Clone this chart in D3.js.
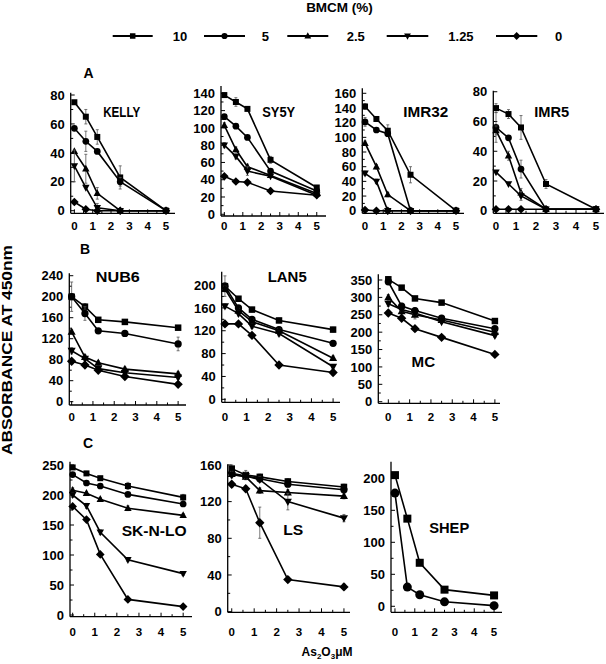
<!DOCTYPE html>
<html><head><meta charset="utf-8">
<script src="https://cdn.jsdelivr.net/npm/d3@7"></script>
<style>
body{margin:0;background:#fff}
text{font-family:"Liberation Sans",Arial,Helvetica,sans-serif;font-weight:bold;fill:#000}
</style>
</head><body>
<svg id="c" width="606" height="664"></svg>
<script>
// ---------- data ----------
const doses = [0, 0.625, 1.25, 2.5, 5];            // As2O3 µM
const seriesLabels = ["10", "5", "2.5", "1.25", "0"]; // BMCM (%)
const xTickLabels = [0, 1, 2, 3, 4, 5];

const kellyValues = [[75,65,51,23,0],[57,48,41,20,0],[41,29,12,0,0],[31,16,2,0,0],[6,1,0,0,0]];
const kellyErrors = [[1,5,5,8,0],[1,7,0,3,0],[1,10,4,0,0],[11,0,3,0,0],[0,0,0,0,0]];

const sy5yValues = [[138,130,122,63,31],[113,102,89,50,27],[103,75,55,45,24],[80,67,50,44,22],[44,38,37,27,22]];
const sy5yErrors = [[2,5,2,4,2],[2,2,2,3,0],[3,3,3,2,0],[3,3,5,2,0],[2,2,2,3,0]];

const imr32Values = [[142,125,109,49,0],[121,110,105,0,0],[92,60,22,0,0],[51,40,0,0,0],[1,0,0,0,0]];
const imr32Errors = [[4,3,8,11,0],[6,3,3,0,0],[3,3,3,0,0],[3,3,0,0,0],[0,0,0,0,0]];

const imr5Values = [[69,65,56,18,1],[56,49,28,1,1],[54,37,12,1,1],[26,18,10,1,1],[1,1,1,1,1]];
const imr5Errors = [[3,3,8,3,0],[10,2,6,0,0],[3,3,3,0,0],[2,2,3,0,0],[0,0,0,0,0]];

const nub6Values = [[200,181,156,152,141],[200,168,135,130,110],[133,85,74,62,53],[97,82,63,55,46],[77,70,60,48,33]];
const nub6Errors = [[28,6,4,4,4],[6,13,4,4,13],[4,4,4,4,4],[6,4,3,3,3],[3,3,3,3,3]];

const lan5Values = [[198,176,157,138,122],[198,160,140,122,98],[193,155,136,120,72],[163,150,128,115,57],[132,132,112,60,47]];
const lan5Errors = [[18,4,4,4,4],[6,4,4,4,4],[5,4,4,4,4],[4,4,4,4,4],[4,4,4,4,4]];

const mcValues = [[352,328,297,285,232],[345,275,262,240,210],[300,260,250,235,200],[282,265,255,230,190],[255,240,210,185,136]];
const mcErrors = [[8,5,5,5,5],[8,8,8,5,5],[8,8,12,5,5],[8,6,6,5,5],[6,6,6,5,5]];

const sknloValues = [[246,236,228,215,196],[234,220,215,201,185],[208,203,193,178,166],[200,182,138,92,69],[181,159,101,26,14]];
const sknloErrors = [[3,3,3,6,5],[3,3,3,3,4],[4,3,3,4,3],[4,4,4,3,3],[3,3,3,3,3]];

const lsValues = [[156,149,147,142,136],[151,148,145,139,133],[150,147,132,130,126],[149,148,144,120,102],[139,134,97,35,27]];
const lsErrors = [[4,5,3,3,3],[3,3,3,3,3],[3,3,3,3,3],[3,3,3,9,4],[3,3,17,3,3]];

const shepValues = [[205,137,68,26,17],[177,30,18,7,1]];
const shepErrors = [[3,3,3,3,3],[3,3,3,3,3]];

// ---------- layout ----------
const panels = [
  {title:"KELLY", values:kellyValues, errors:kellyErrors, left:70.7, right:175, top:92.7, bottom:213.3, xDom:[-0.2,5.49], yDom:[-1.8,81.6], yTicks:[0,20,40,60,80], yMinor:10, tx:121.7, ty:117.3, tw:37, ms:6, xly:230},
  {title:"SY5Y", values:sy5yValues, errors:sy5yErrors, left:221, right:326, top:86, bottom:216, xDom:[-0.18,5.5], yDom:[-2,148.5], yTicks:[0,20,40,60,80,100,120,140], yMinor:10, tx:278.7, ty:116.7, tw:33, ms:6, xly:230},
  {title:"IMR32", values:imr32Values, errors:imr32Errors, left:362.3, right:464, top:88.3, bottom:213.3, xDom:[-0.15,5.44], yDom:[-3.5,166.8], yTicks:[0,20,40,60,80,100,120,140,160], yMinor:10, tx:425.8, ty:117.3, tw:45, ms:6, xly:230},
  {title:"IMR5", values:imr5Values, errors:imr5Errors, left:493.3, right:604, top:90.7, bottom:213.3, xDom:[-0.135,5.4], yDom:[-1.7,80.7], yTicks:[0,20,40,60,80], yMinor:10, tx:551.7, ty:116.7, tw:35, ms:6, xly:230},
  {title:"NUB6", values:nub6Values, errors:nub6Errors, left:69.3, right:186, top:273.3, bottom:405, xDom:[-0.11,5.37], yDom:[-6.3,244.6], yTicks:[0,40,80,120,160,200,240], yMinor:20, tx:117.8, ty:281.7, tw:44, ms:6.5, xly:421},
  {title:"LAN5", values:lan5Values, errors:lan5Errors, left:221.7, right:340, top:271.7, bottom:402.3, xDom:[-0.15,5.32], yDom:[-5.2,223.3], yTicks:[0,40,80,120,160,200], yMinor:20, tx:287.2, ty:281.7, tw:39, ms:6.5, xly:421},
  {title:"MC", values:mcValues, errors:mcErrors, left:378.3, right:500, top:274.3, bottom:403.3, xDom:[-0.47,5.24], yDom:[-4.6,366.4], yTicks:[0,50,100,150,200,250,300,350], yMinor:25, tx:423.3, ty:366.7, tw:23.5, ms:6.5, xly:421},
  {title:"SK-N-LO", values:sknloValues, errors:sknloErrors, left:70, right:192, top:461.7, bottom:616.7, xDom:[-0.12,5.4], yDom:[-2.8,255.5], yTicks:[0,50,100,150,200,250], yMinor:25, tx:154.2, ty:535.7, tw:65, ms:6, xly:636},
  {title:"LS", values:lsValues, errors:lsErrors, left:227.7, right:350, top:464.3, bottom:612.3, xDom:[-0.18,5.27], yDom:[-0.7,160.7], yTicks:[0,40,80,120,160], yMinor:20, tx:293.3, ty:535, tw:20, ms:6.5, xly:636},
  {title:"SHEP", values:shepValues, errors:shepErrors, left:391, right:502, top:461.7, bottom:612.3, xDom:[-0.2,5.4], yDom:[-9.4,226], yTicks:[0,50,100,150,200], yMinor:25, tx:449.2, ty:533.3, tw:40, ms:8, xly:636}
];

const svg = d3.select("#c");

function drawMarker(g, type, cx, cy, s) {
  const h = s / 2;
  if (type === 0) {
    g.append("rect").attr("x", cx - h).attr("y", cy - h).attr("width", s).attr("height", s).attr("fill", "#000");
  } else if (type === 1) {
    g.append("circle").attr("cx", cx).attr("cy", cy).attr("r", s * 0.56).attr("fill", "#000");
  } else if (type === 2) {
    g.append("path").attr("d", `M${cx},${cy - s*0.68}L${cx + s*0.62},${cy + s*0.45}L${cx - s*0.62},${cy + s*0.45}Z`).attr("fill", "#000");
  } else if (type === 3) {
    g.append("path").attr("d", `M${cx},${cy + s*0.68}L${cx + s*0.62},${cy - s*0.45}L${cx - s*0.62},${cy - s*0.45}Z`).attr("fill", "#000");
  } else {
    g.append("path").attr("d", `M${cx},${cy - s*0.72}L${cx + s*0.72},${cy}L${cx},${cy + s*0.72}L${cx - s*0.72},${cy}Z`).attr("fill", "#000");
  }
}

panels.forEach(p => {
  const g = svg.append("g");
  const x = d3.scaleLinear().domain(p.xDom).range([p.left, p.right]);
  const y = d3.scaleLinear().domain(p.yDom).range([p.bottom, p.top]);

  // axes lines
  g.append("line").attr("x1", p.left).attr("x2", p.left).attr("y1", p.top).attr("y2", p.bottom).attr("stroke", "#000").attr("stroke-width", 1.3);
  g.append("line").attr("x1", p.left).attr("x2", p.right).attr("y1", p.bottom).attr("y2", p.bottom).attr("stroke", "#000").attr("stroke-width", 1.3);

  // y ticks (major + minor)
  const yMax = p.yTicks[p.yTicks.length - 1];
  const minor = d3.range(0, yMax + 0.001, p.yMinor);
  minor.forEach(v => {
    const major = p.yTicks.includes(v);
    g.append("line").attr("x1", p.left).attr("x2", p.left + (major ? 4 : 2.5))
      .attr("y1", y(v)).attr("y2", y(v)).attr("stroke", "#000").attr("stroke-width", 1);
  });
  p.yTicks.forEach(v => {
    g.append("text").attr("x", p.left - 6).attr("y", y(v)).attr("dy", "0.36em")
      .attr("text-anchor", "end").attr("font-size", 13).text(v);
  });

  // x ticks
  d3.range(0, 5.01, 0.5).forEach(v => {
    g.append("line").attr("x1", x(v)).attr("x2", x(v)).attr("y1", p.bottom).attr("y2", p.bottom - (v % 1 === 0 ? 4 : 2.5))
      .attr("stroke", "#000").attr("stroke-width", 1);
  });
  xTickLabels.forEach(v => {
    g.append("text").attr("x", x(v)).attr("y", p.xly).attr("text-anchor", "middle").attr("font-size", 11.5).text(v);
  });

  // title
  g.append("text").attr("x", p.tx).attr("y", p.ty).attr("text-anchor", "middle").attr("font-size", 14)
    .attr("textLength", p.tw).attr("lengthAdjust", "spacingAndGlyphs").text(p.title);

  const line = d3.line().x((d, i) => x(doses[i])).y(d => y(d));

  p.values.forEach((vals, si) => {
    // error bars
    vals.forEach((v, i) => {
      const e = p.errors[si][i];
      if (e > 2) {
        const cx = x(doses[i]);
        g.append("line").attr("x1", cx).attr("x2", cx).attr("y1", y(v - e)).attr("y2", y(v + e)).attr("stroke", "#555").attr("stroke-width", 0.8);
        [v - e, v + e].forEach(t => g.append("line").attr("x1", cx - 1.5).attr("x2", cx + 1.5).attr("y1", y(t)).attr("y2", y(t)).attr("stroke", "#555").attr("stroke-width", 0.8));
      }
    });
    g.append("path").attr("d", line(vals)).attr("fill", "none").attr("stroke", "#000").attr("stroke-width", 1.6);
    vals.forEach((v, i) => drawMarker(g, si, x(doses[i]), y(v), p.ms));
  });
});

// row letters
[["A", 88.5, 78], ["B", 85, 254], ["C", 88, 448]].forEach(([t, xx, yy]) => {
  svg.append("text").attr("x", xx).attr("y", yy).attr("text-anchor", "middle").attr("font-size", 14).text(t);
});

// legend
svg.append("text").attr("x", 339.5).attr("y", 11.5).attr("text-anchor", "middle").attr("font-size", 13.5).text("BMCM (%)");
const legendLines = [[112.7,152.7,172.7],[204,245,261.7],[287.3,328.3,346.7],[386.7,428.3,448.3],[496,537.3,555]];
seriesLabels.forEach((lab, i) => {
  const [a, b, tx] = legendLines[i];
  svg.append("line").attr("x1", a).attr("x2", b).attr("y1", 36).attr("y2", 36).attr("stroke", "#000").attr("stroke-width", 1.8);
  drawMarker(svg, i, (a + b) / 2, 36, 5.5);
  svg.append("text").attr("x", tx).attr("y", 40.7).attr("font-size", 13).text(lab);
});

// axis titles
svg.append("text").attr("transform", "translate(12,350) rotate(-90)").attr("text-anchor", "middle")
  .attr("font-size", 14).attr("textLength", 210).attr("lengthAdjust", "spacingAndGlyphs").text("ABSORBANCE AT 450nm");
const xt = svg.append("text").attr("x", 327).attr("y", 656).attr("text-anchor", "middle").attr("font-size", 12);
xt.append("tspan").text("As");
xt.append("tspan").attr("font-size", 8).attr("dy", 3).text("2");
xt.append("tspan").attr("dy", -3).text("O");
xt.append("tspan").attr("font-size", 8).attr("dy", 3).text("3");
xt.append("tspan").attr("dy", -3).text("\u03bcM");
</script>
</body></html>
